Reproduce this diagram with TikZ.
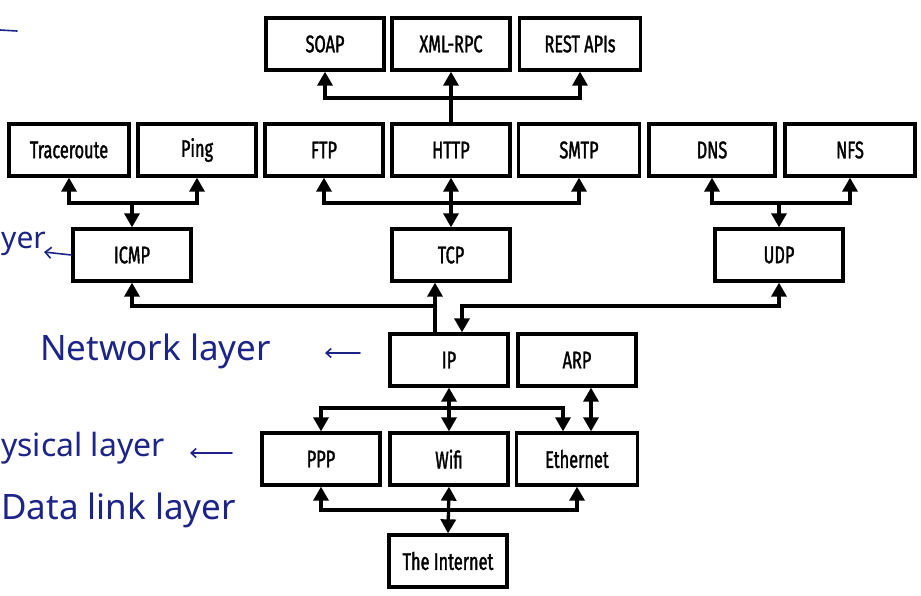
\documentclass[tikz,border=0pt]{standalone}
\usepackage{fontspec}
\setmainfont{Fira Sans}
\newfontfamily\boxfont[FakeStretch=0.68,FakeBold=1.4]{Fira Sans}
\newfontfamily\penfont{Noto Sans}
\usetikzlibrary{arrows.meta}
\definecolor{ink}{RGB}{28,36,135}
\begin{document}
\begin{tikzpicture}[x=1pt,y=-1pt,
  box/.style={draw, line width=3.3pt, minimum width=118pt, minimum height=52pt,
              inner sep=0pt, font=\boxfont\fontsize{24}{27}\selectfont},
  conn/.style={line width=3.3pt},
  tip/.tip={Triangle[length=14pt,width=15pt]},
  hand/.style={ink, line width=1.6pt, line cap=round},
  note/.style={ink, inner sep=0pt, font=\penfont\fontsize{35}{40}\selectfont}]
\useasboundingbox (0,0) rectangle (921,596);
\fill[white] (0,0) rectangle (921,596);

% application protocols
\node[box] (soap) at (325,44) {SOAP};
\node[box] (xml)  at (451,44) {XML-RPC};
\node[box, minimum width=121pt] (rest) at (580,44) {REST APIs};

\node[box, minimum width=120pt] (trace) at (69,150) {Traceroute};
\node[box] (ping) at (197,150) {Ping};
\node[box] (ftp)  at (324,150) {FTP};
\node[box] (http) at (451,150) {HTTP};
\node[box, minimum width=121pt] (smtp) at (579,150) {SMTP};
\node[box, minimum width=126pt] (dns) at (712,150) {DNS};
\node[box, minimum width=130pt] (nfs) at (850,150) {NFS};

% transport layer
\node[box] (icmp) at (132,255) {ICMP};
\node[box] (tcp)  at (451,255) {TCP};
\node[box, minimum width=128pt] (udp) at (779,255) {UDP};

% network layer
\node[box] (ip)  at (449,360) {IP};
\node[box] (arp) at (577,360) {ARP};

% link layer
\node[box] (ppp)  at (321,459) {PPP};
\node[box] (wifi) at (449,459) {Wifi};
\node[box, minimum width=121pt] (eth) at (577,459) {Ethernet};

\node[box] (net) at (448,561) {The Internet};

% row levels of the junction lines
\coordinate (yAB) at (0,98);
\coordinate (yBC) at (0,203);
\coordinate (yCD) at (0,306);
\coordinate (yDE) at (0,408);
\coordinate (yEF) at (0,510);

% HTTP -> SOAP / XML-RPC / REST
\coordinate (jA) at (http.north |- yAB);
\draw[conn,-tip] (http.north) -- (xml.south);
\draw[conn,-tip] (jA) -| (soap.south);
\draw[conn,-tip] (jA) -| (rest.south);

% ICMP -> Traceroute / Ping
\coordinate (jT) at (icmp.north |- yBC);
\draw[conn,-tip] (jT) -- (icmp.north);
\draw[conn,-tip] (jT) -| (trace.south);
\draw[conn,-tip] (jT) -| (ping.south);

% TCP -> FTP / HTTP / SMTP
\coordinate (jH) at (http.south |- yBC);
\draw[conn,tip-tip] (http.south) -- (tcp.north);
\draw[conn,-tip] (jH) -| (ftp.south);
\draw[conn,-tip] (jH) -| (smtp.south);

% UDP -> DNS / NFS
\coordinate (jU) at (udp.north |- yBC);
\draw[conn,-tip] (jU) -- (udp.north);
\draw[conn,-tip] (jU) -| (dns.south);
\draw[conn,-tip] (jU) -| (nfs.south);

% IP -> ICMP / TCP / UDP
\coordinate (ipL) at ([xshift=-14pt]ip.north);
\coordinate (ipR) at ([xshift=13pt]ip.north);
\coordinate (tcpL) at ([xshift=-16pt]tcp.south);
\draw[conn,-tip] (ipL) -- (ipL |- tcpL);
\draw[conn,-tip] (ipL |- yCD) -| (icmp.south);
\draw[conn,tip-tip] (udp.south) |- (ipR |- yCD) -- (ipR);

% IP -> PPP / Wifi / Ethernet, ARP <-> Ethernet
\coordinate (jW) at (ip.south |- yDE);
\coordinate (ethL) at ([xshift=-14pt]eth.north);
\coordinate (ethR) at ([xshift=14pt]eth.north);
\coordinate (arpR) at ([xshift=14pt]arp.south);
\draw[conn,tip-tip] (ip.south) -- (wifi.north);
\draw[conn,-tip] (jW) -| (ppp.north);
\draw[conn,-tip] (jW) -| (ethL);
\draw[conn,tip-tip] (arpR) -- (ethR);

% The Internet -> PPP / Wifi / Ethernet
\coordinate (jI) at (wifi.south |- yEF);
\draw[conn,tip-tip] (wifi.south) -- (net.north);
\draw[conn,-tip] (jI) -| (ppp.south);
\draw[conn,-tip] (jI) -| (eth.south);

% pen notes in the margin
\coordinate (dashA) at (0,30);
\coordinate (dashB) at (17,31);
\draw[hand] (dashA) -- (dashB);

\coordinate (icmpTip) at (44,252);
\draw[hand,-{Straight Barb[length=6pt,width=11pt]}] (icmp.west) -- (icmpTip);
\node[note, anchor=west, font=\penfont\fontsize{30}{34}\selectfont] (yer) at (1,244) {yer};

\node[note, anchor=west] (netnote) at (40,351) {Network layer};
\coordinate (netA) at (360,353);
\coordinate (netB) at (325,353);
\draw[hand,-{Straight Barb[length=5pt,width=9pt]}] (netA) -- (netB);

\node[note, anchor=west, font=\penfont\fontsize{32}{36}\selectfont] (physnote) at (1,448) {ysical layer};
\coordinate (phyA) at (232,453);
\coordinate (phyB) at (190,453);
\draw[hand,-{Straight Barb[length=5pt,width=9pt]}] (phyA) -- (phyB);

\node[note, anchor=west] (dlnote) at (1,510) {Data link layer};
\end{tikzpicture}
\end{document}
